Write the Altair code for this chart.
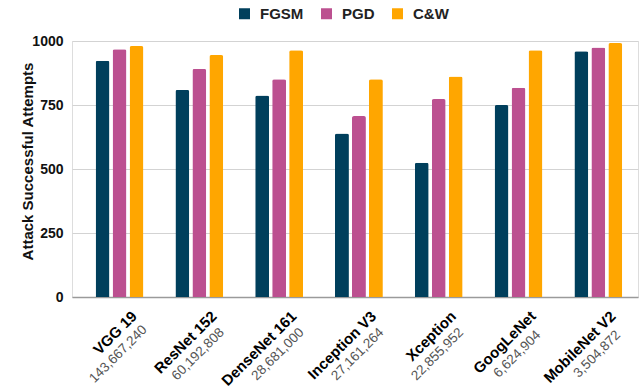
import altair as alt
import pandas as pd

# Models, their parameter counts and successful attempts per attack
models = ["VGG 19", "ResNet 152", "DenseNet 161", "Inception V3",
          "Xception", "GoogLeNet", "MobileNet V2"]
params = ["143,667,240", "60,192,808", "28,681,000", "27,161,264",
          "22,855,952", "6,624,904", "3,504,872"]
attacks = ["FGSM", "PGD", "C&W"]
fgsm = [923, 809, 787, 639, 524, 750, 960]
pgd = [968, 891, 851, 707, 773, 817, 975]
cw = [980, 945, 964, 851, 861, 964, 992]
colors = ["#003f5c", "#bc5090", "#ffa600"]

rows = []
for i, m in enumerate(models):
    for a, series in zip(attacks, [fgsm, pgd, cw]):
        rows.append({"model": m, "attack": a, "value": series[i]})
df = pd.DataFrame(rows)
labels = pd.DataFrame({"model": models, "params": params})

FONT = "Liberation Sans"

x_enc = alt.X(
    "model:N", sort=models,
    scale=alt.Scale(paddingInner=0.4, paddingOuter=0.2465, align=0.6),
    axis=alt.Axis(labels=False, ticks=False, title=None, grid=False,
                  domainColor="#9a9a9a", domainWidth=1.5),
)

bars = alt.Chart(df).mark_bar(
    cornerRadiusTopLeft=2, cornerRadiusTopRight=2
).encode(
    x=x_enc,
    xOffset=alt.XOffset("attack:N", sort=attacks,
                        scale=alt.Scale(paddingInner=0.18)),
    y=alt.Y(
        "value:Q",
        scale=alt.Scale(domain=[0, 1000], nice=False),
        axis=alt.Axis(
            values=[0, 250, 500, 750, 1000], format="d",
            title="Attack Successful Attempts",
            ticks=False, domain=False, labelPadding=9,
            labelFont=FONT, labelFontSize=14, labelFontWeight="bold",
            labelColor="#111", titleFont=FONT, titleFontSize=15,
            titleFontWeight="bold", titleColor="#111",
            titleX=-37, titleY=120, titleAngle=270, titleAlign="center",
            titleBaseline="bottom",
            gridColor="#d3d3d3", gridWidth=1,
        ),
    ),
    color=alt.Color(
        "attack:N", sort=attacks,
        scale=alt.Scale(domain=attacks, range=colors),
        legend=alt.Legend(
            title=None, orient="none", direction="horizontal",
            legendX=165, legendY=-35, symbolType="square", symbolSize=121,
            symbolStrokeWidth=0, labelFont=FONT, labelFontSize=15,
            labelFontWeight="bold", labelColor="#222", labelOffset=8,
            columnPadding=15, padding=0,
        ),
    ),
)

# Two-line category labels, slanted at 45 degrees under each group
names = alt.Chart(labels).mark_text(
    angle=315, align="right", baseline="top", dx=13.8,
    font=FONT, fontSize=15, fontWeight="bold", color="#000",
).encode(
    x=alt.X("model:N", sort=models),
    y=alt.value(277.5),
    text="model:N",
)

counts = alt.Chart(labels).mark_text(
    angle=315, align="center", baseline="top", dx=-8.8,
    font=FONT, fontSize=13.5, color="#555",
).encode(
    x=alt.X("model:N", sort=models),
    y=alt.value(302),
    text="params:N",
)

chart = alt.layer(bars, names, counts).properties(
    width=566, height=256,
    autosize=alt.AutoSizeParams(type="none"),
    padding={"left": 72, "top": 41, "right": 2, "bottom": 92},
).configure_view(stroke=None).configure(background="white")

chart.save("out.html", embed_options={"renderer": "svg", "actions": False})
